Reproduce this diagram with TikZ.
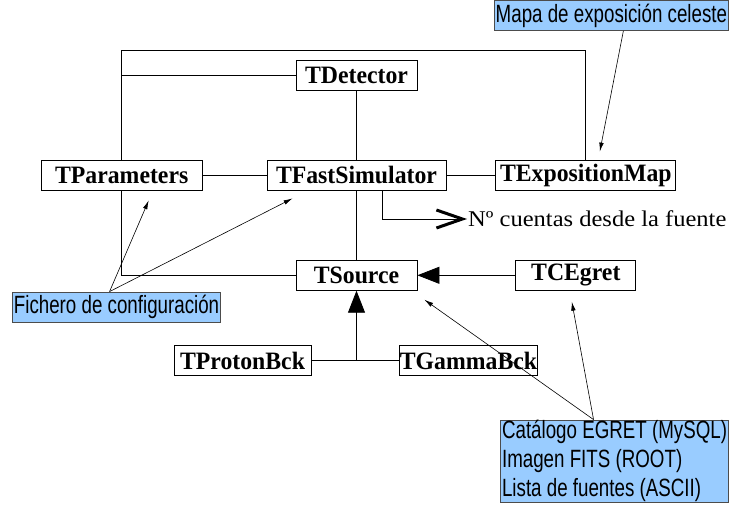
\documentclass[tikz,border=0pt]{standalone}
\usepackage{fontspec}
\setmainfont{Liberation Serif}
\newfontfamily\classfont{Liberation Serif}[FakeStretch=0.95]
\newfontfamily\countfont{Liberation Serif}[FakeStretch=1.09]
\newfontfamily\notefont{Liberation Sans}[FakeStretch=0.75]
\usetikzlibrary{positioning,arrows.meta}
\definecolor{noteblue}{RGB}{153,204,255}

\begin{document}
\begin{tikzpicture}[x=1pt, y=1pt, node distance=12mm]
\tikzset{
  class/.style={draw, line width=0.8pt, fill=white, minimum height=30pt, inner sep=0.5pt, font=\classfont\bfseries\fontsize{25}{27}\selectfont},
  note/.style={draw=black!70, line width=0.8pt, fill=noteblue, align=left, minimum height=30pt, inner xsep=1.5pt, inner ysep=0.5pt, font=\notefont\fontsize{25}{29}\selectfont},
  link/.style={line width=0.8pt},
  hint/.style={-{Latex[length=9pt,width=4.5pt]}, line width=0.6pt},
  inherit/.style={-{Triangle[length=22pt,width=17pt]}, line width=0.8pt}
}
\useasboundingbox (0,0) rectangle (729,508);

% Nodes
\node[class, minimum width=179pt] (fast) at (356.5,333) {TFastSimulator};
\node[class, minimum width=121pt, above=69pt of fast] (det) {TDetector};
\node[class, minimum width=121pt, below=69.5pt of fast] (src) {TSource};
\node[class, minimum width=161pt, left=64pt of fast] (par) {TParameters};
\node[class, minimum width=180pt, right=49pt of fast] (expo) {TExpositionMap};
\node[class, minimum width=120pt, right=98pt of src] (egret) {TCEgret};
\node[class, minimum width=137pt] (proton) at (242.5,147.5) {TProtonBck};
\node[class, minimum width=135pt] (gamma) at (468.5,147.5) {TGammaBck};
\node[anchor=west, inner sep=1pt, font=\countfont\fontsize{22.5}{25}\selectfont] (cuentas) at (467,289) {Nº cuentas desde la fuente};

\node[note, anchor=north east] (mapa) at (729,508) {Mapa de exposición celeste};
\node[note, anchor=west] (fichero) at (12,201) {Fichero de configuración};
\node[note, anchor=south east] (cat) at (729,5) {Catálogo EGRET (MySQL)\\Imagen FITS (ROOT)\\Lista de fuentes (ASCII)};

% Links
\draw[link] (par.north) |- ([yshift=9pt]det.north) -| (expo.north);
\draw[link] (det.west) -- (det.west -| par.north);
\draw[link] (det) -- (fast);
\draw[link] (par) -- (fast);
\draw[link] (fast) -- (expo);
\draw[link] (fast) -- (src);
\draw[link] (par.south) |- (src.west);
\draw[link] (proton) -- (gamma);
\draw[inherit] (egret) -- (src);
\draw[inherit] (proton.east -| src.south) -- (src.south);
\draw[link, -{Straight Barb[length=26pt,width=18pt,line width=3pt]}] ([xshift=25.5pt]fast.south) |- (cuentas.west);

% Notes
\draw[hint] ([xshift=12pt]mapa.south) -- ([xshift=14pt,yshift=8pt]expo.north);
\draw[hint] ([xshift=-7pt]fichero.north) -- ([xshift=27pt,yshift=-10pt]par.south);
\draw[hint] ([xshift=-7pt]fichero.north) -- ([xshift=26pt,yshift=-8pt]fast.south west);
\draw[hint] ([xshift=-21pt]cat.north) -- ([xshift=7pt,yshift=-9pt]src.south east);
\draw[hint] ([xshift=-21pt]cat.north) -- ([xshift=-4pt,yshift=-11pt]egret.south);
\end{tikzpicture}
\end{document}
